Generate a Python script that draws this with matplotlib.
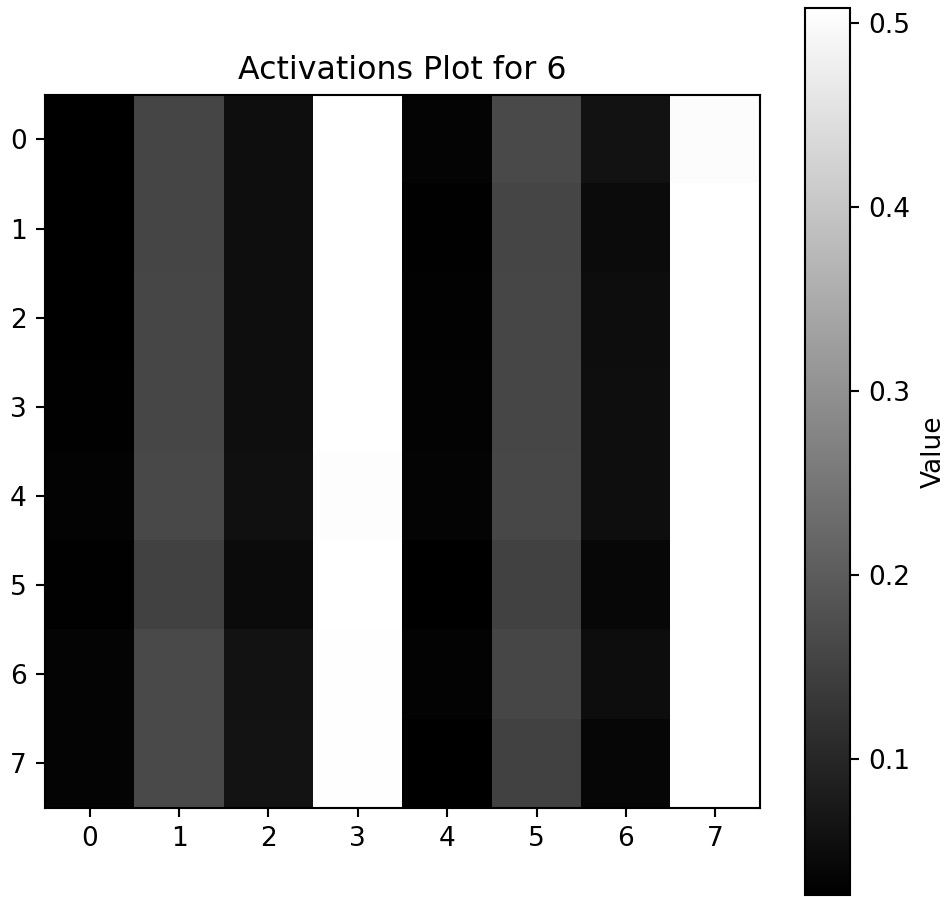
import numpy as np
import matplotlib
matplotlib.use('Agg')
import matplotlib.pyplot as plt

# activation values (rows 0-7, columns 0-7)
row0 = [0.026, 0.156, 0.053, 0.508, 0.035, 0.164, 0.060, 0.502]
row1 = [0.026, 0.156, 0.053, 0.508, 0.028, 0.156, 0.047, 0.508]
row2 = [0.026, 0.158, 0.053, 0.508, 0.030, 0.158, 0.051, 0.508]
row3 = [0.028, 0.158, 0.053, 0.508, 0.032, 0.158, 0.053, 0.508]
row4 = [0.032, 0.162, 0.058, 0.504, 0.034, 0.160, 0.054, 0.508]
row5 = [0.028, 0.151, 0.047, 0.508, 0.026, 0.151, 0.041, 0.508]
row6 = [0.034, 0.166, 0.060, 0.506, 0.032, 0.158, 0.051, 0.508]
row7 = [0.035, 0.166, 0.062, 0.506, 0.026, 0.149, 0.039, 0.508]
rows = [row0, row1, row2, row3, row4, row5, row6, row7]
ticks = list(range(8))

acts = np.array(rows)

dpi = 190
fig = plt.figure(figsize=(947 / dpi, 897 / dpi), dpi=dpi)
ax = fig.add_axes([0.0475, 0.0992, 0.755, 0.795])
cax = fig.add_axes([0.850, 0.0022, 0.0475, 0.989])

im = ax.imshow(acts, cmap='gray', aspect='auto')
ax.set_xticks(ticks)
ax.set_yticks(ticks)
ax.set_title('Activations Plot for 6')

cb = fig.colorbar(im, cax=cax)
cb.set_label('Value')

plt.savefig('out.png', dpi=dpi)
